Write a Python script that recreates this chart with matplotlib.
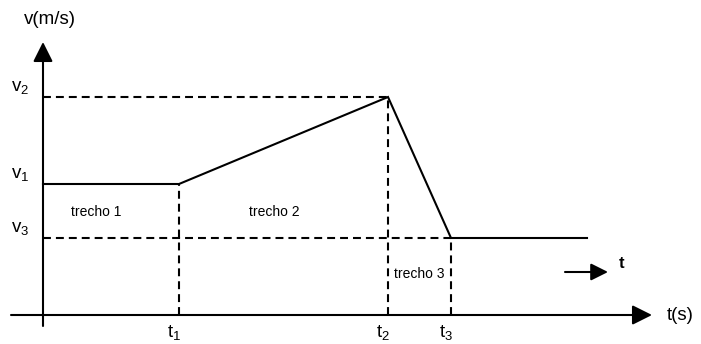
import matplotlib
matplotlib.use("Agg")
import matplotlib.pyplot as plt

plt.rcParams['font.family'] = ['Liberation Sans', 'DejaVu Sans']
plt.rcParams['mathtext.fontset'] = 'custom'
plt.rcParams['mathtext.rm'] = 'Liberation Sans'
plt.rcParams['mathtext.it'] = 'Liberation Sans'
plt.rcParams['mathtext.default'] = 'regular'

# data (arbitrary units)
t_marks = [1.36, 3.45, 4.08]          # t1, t2, t3
t_names = ['t$_1$', 't$_2$', 't$_3$']
v_marks = [1.31, 2.18, 0.77]          # v1, v2, v3
v_names = ['v$_1$', 'v$_2$', 'v$_3$']
t_path = [0.0, 1.36, 3.45, 4.08, 5.44]
v_path = [1.31, 1.31, 2.18, 0.77, 0.77]
segments = ['trecho 1', 'trecho 2', 'trecho 3']

fig = plt.figure(figsize=(7.01, 3.44), dpi=100)
ax = fig.add_axes([0, 0, 1, 1])
ax.set_xlim(-0.43, 6.58)
ax.set_ylim(-0.29, 3.15)
ax.axis('off')

k = 'black'
arrow = dict(arrowstyle='-|>,head_length=0.4,head_width=0.2', color=k, lw=1.5,
             shrinkA=0, shrinkB=0, mutation_scale=30)
# axes
ax.annotate('', xy=(0, 2.73), xytext=(0, -0.11), arrowprops=arrow)
ax.annotate('', xy=(6.09, 0), xytext=(-0.32, 0), arrowprops=arrow)

dash = dict(color=k, lw=1.5, linestyle=(0, (3.8, 2.4)))
t1, t2, t3 = t_marks
v1, v2, v3 = v_marks
# dashed guides
ax.plot([0, t2], [v2, v2], **dash)
ax.plot([0, t3], [v3, v3], **dash)
ax.plot([t1, t1], [0, v1], **dash)
ax.plot([t2, t2], [0, v2], **dash)
ax.plot([t3, t3], [0, v3], **dash)

# velocity profile
ax.plot(t_path, v_path, color=k, lw=1.5, solid_joinstyle='miter')

# labels
fs = 13.5
ax.text(0.07, 2.95, 'v(m/s)', ha='center', va='center', fontsize=fs)
ax.text(6.24, 0.0, 't(s)', ha='left', va='center', fontsize=fs)
for v, name in zip(v_marks, v_names):
    ax.text(-0.23, v + 0.01, name, ha='center', va='bottom', fontsize=fs)
for t, name in zip(t_marks, t_names):
    ax.text(t - 0.05, -0.225, name, ha='center', va='baseline', fontsize=fs)

ax.text(0.53, 1.03, segments[0], ha='center', va='center', fontsize=10)
ax.text(2.31, 1.03, segments[1], ha='center', va='center', fontsize=10)
ax.text((t2 + t3) / 2, 0.41, segments[2], ha='center', va='center', fontsize=10)

# direction arrow
small = dict(arrowstyle='-|>,head_length=0.4,head_width=0.2', color=k, lw=1.5,
             shrinkA=0, shrinkB=0, mutation_scale=26)
ax.annotate('', xy=(5.65, 0.43), xytext=(5.22, 0.43), arrowprops=small)
ax.text(5.79, 0.52, 't', ha='center', va='center', fontsize=12, fontweight='bold')

fig.savefig('out.png', dpi=100)
